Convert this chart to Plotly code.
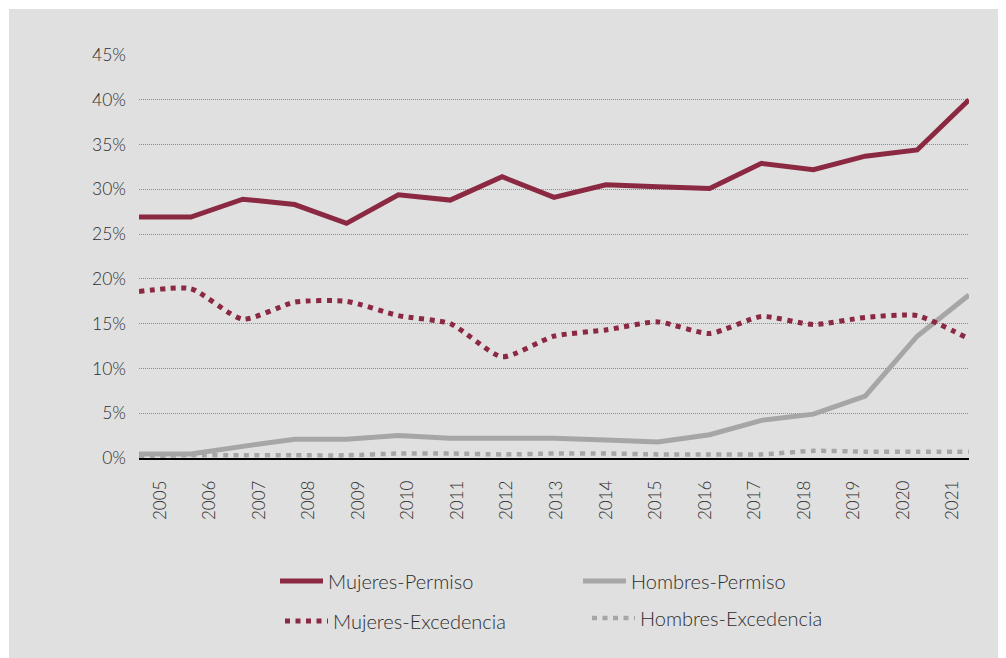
import plotly.graph_objects as go

# ---- data ----
years = [2005, 2006, 2007, 2008, 2009, 2010, 2011, 2012, 2013, 2014,
         2015, 2016, 2017, 2018, 2019, 2020, 2021]
year_labels = [str(y) for y in years]

mujeres_permiso = [26.9, 26.9, 28.9, 28.3, 26.2, 29.4, 28.8, 31.4, 29.1, 30.5,
                   30.3, 30.1, 32.9, 32.2, 33.7, 34.4, 40.0]
hombres_permiso = [0.45, 0.45, 1.3, 2.1, 2.1, 2.5, 2.2, 2.2, 2.2, 2.0,
                   1.8, 2.6, 4.2, 4.9, 6.9, 13.6, 18.2]
mujeres_excedencia = [18.6, 18.9, 15.5, 17.4, 17.5, 15.9, 15.0, 11.3, 13.6, 14.3,
                      15.2, 13.9, 15.8, 14.9, 15.7, 15.9, 13.3]
hombres_excedencia = [0.2, 0.3, 0.3, 0.3, 0.3, 0.5, 0.5, 0.4, 0.5, 0.5,
                      0.4, 0.4, 0.4, 0.8, 0.7, 0.7, 0.7]

y_ticks = [0, 5, 10, 15, 20, 25, 30, 35, 40, 45]
y_tick_labels = [f"{v}%" for v in y_ticks]

MAROON = "#8b2942"
GRAY = "#a6a6a6"
TXT = "#2e2e2e"
BG = "#e0e0e0"
FONT = "Lato"

# the page body has an 8px margin; work in figure pixels (screen - 8)
OFF = 8
W, H = 998, 650
ml, mr, mt, mb = 139 - OFF, 37, 55 - OFF, 200
pw, ph = W - ml - mr, H - mt - mb


def px_x(p):  # p in screen px
    return (p - OFF - ml) / pw


def px_y(p):
    return (H - mb - (p - OFF)) / ph


# year labels sit slightly off the data points (as in the source chart)
span = years[-1] - years[0]
label_start = years[0] + (160 - 139) / 830 * span
label_step = 49.56 / 830 * span
label_pos = [label_start + i * label_step for i in range(len(years))]

fig = go.Figure()

fig.add_trace(go.Scatter(
    x=years, y=mujeres_permiso, name="Mujeres-Permiso", mode="lines",
    line=dict(color=MAROON, width=5), legend="legend", cliponaxis=False))
fig.add_trace(go.Scatter(
    x=years, y=hombres_permiso, name="Hombres-Permiso", mode="lines",
    line=dict(color=GRAY, width=5), legend="legend2", cliponaxis=False))
fig.add_trace(go.Scatter(
    x=years, y=mujeres_excedencia, name="Mujeres-Excedencia", mode="lines",
    line=dict(color=MAROON, width=5, dash="5px,5.5px", shape="spline", smoothing=0.6),
    legend="legend3", cliponaxis=False))
fig.add_trace(go.Scatter(
    x=years, y=hombres_excedencia, name="Hombres-Excedencia", mode="lines",
    line=dict(color=GRAY, width=4.5, dash="5px,5.5px", shape="spline", smoothing=0.6),
    legend="legend4", cliponaxis=False))

legend_common = dict(orientation="h", xanchor="left", yanchor="middle",
                     bgcolor="rgba(0,0,0,0)", borderwidth=0,
                     font=dict(family=FONT, size=20, color=TXT, weight=300),
                     itemwidth=43)

fig.update_layout(
    width=W, height=H,
    margin=dict(l=ml, r=mr, t=mt, b=mb),
    paper_bgcolor="white",
    plot_bgcolor="rgba(0,0,0,0)",
    showlegend=True,
    font=dict(family=FONT, color=TXT, weight=300),
    shapes=[dict(type="rect", xref="paper", yref="paper",
                 x0=px_x(9), x1=px_x(1030), y0=px_y(690), y1=px_y(9),
                 fillcolor=BG, line=dict(width=0), layer="below")],
    xaxis=dict(range=[years[0], years[-1]], tickvals=label_pos, ticktext=year_labels,
               tickangle=-90, showgrid=False, zeroline=False,
               showline=True, linecolor="black", linewidth=1.5,
               layer="below traces", ticks="", ticklabelstandoff=14,
               tickfont=dict(family=FONT, size=17, color=TXT, weight=300)),
    yaxis=dict(range=[0, 45], tickvals=y_ticks, ticktext=y_tick_labels,
               showgrid=True, gridcolor="#8c8c8c", gridwidth=1, griddash="1px,1px",
               zeroline=False, showline=False, ticks="", ticklabelstandoff=12,
               tickfont=dict(family=FONT, size=17.5, color=TXT, weight=300)),
    legend=dict(x=px_x(275), y=px_y(581), **legend_common),
    legend2=dict(x=px_x(578), y=px_y(581), **legend_common),
    legend3=dict(x=px_x(280), y=px_y(621), **legend_common),
    legend4=dict(x=px_x(587), y=px_y(618), **legend_common),
)

fig.write_html("out.html")
